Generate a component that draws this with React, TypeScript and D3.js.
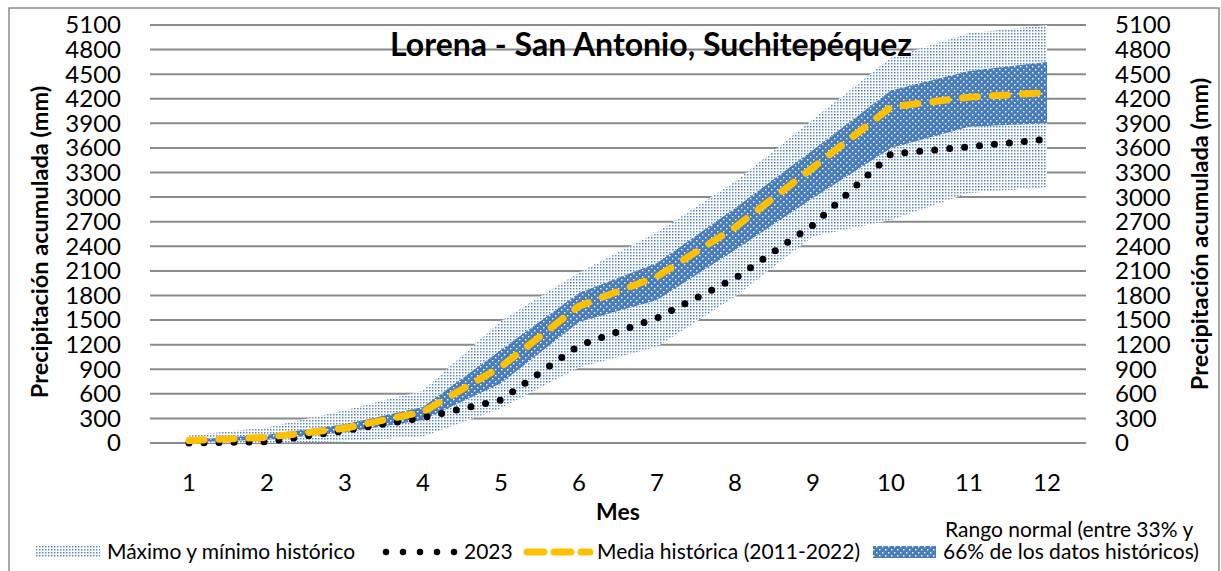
import React from "react";
import * as d3 from "d3";

const months = [1, 2, 3, 4, 5, 6, 7, 8, 9, 10, 11, 12];
const maxHist = [90, 190, 400, 640, 1490, 2080, 2570, 3190, 3950, 4700, 5000, 5100];
const minHist = [0, 0, 20, 80, 425, 920, 1175, 1785, 2520, 2720, 3050, 3120];
const q66 = [40, 100, 230, 440, 1135, 1830, 2195, 2865, 3575, 4300, 4540, 4650];
const q33 = [10, 40, 130, 280, 730, 1476, 1745, 2355, 2990, 3600, 3860, 3900];
const mean = [30, 70, 180, 380, 930, 1670, 2030, 2630, 3360, 4100, 4220, 4275];
const y2023 = [0, 15, 150, 310, 525, 1190, 1525, 2010, 2660, 3525, 3615, 3705];
const yTicks = d3.range(0, 5101, 300);

const title = "Lorena - San Antonio, Suchitepéquez";
const yTitle = "Precipitación acumulada (mm)";
const xTitle = "Mes";
const legendLabels = [
  "Máximo y mínimo histórico",
  "2023",
  "Media histórica (2011-2022)",
  "Rango normal (entre 33% y",
  "66% de los datos históricos)",
];

const FONT = "Lato, 'Open Sans', sans-serif";
const BLUE = "#4A7EBB";

export default function App() {
  const W = 1221, H = 571;
  const left = 150, right = 1086, top = 25, bottom = 443;
  const x = d3.scaleBand<number>().domain(months).range([left, right]);
  const cx = (m: number) => (x(m) as number) + x.bandwidth() / 2;
  const y = d3.scaleLinear().domain([0, 5100]).range([bottom, top]);

  const idx = months.map((_, i) => i);
  const bandArea = (lo: number[], hi: number[]) =>
    d3.area<number>().x((i) => cx(months[i])).y0((i) => y(lo[i])).y1((i) => y(hi[i]))(idx) || "";
  const line = (vals: number[]) =>
    d3.line<number>().x((i) => cx(months[i])).y((i) => y(vals[i]))(idx) || "";

  const tickFs = 24;
  return (
    <svg width={W} height={H} style={{ position: "absolute", left: 0, top: 0, background: "#fff" }}>
      <defs>
        <pattern id="lightPat" patternUnits="userSpaceOnUse" width="3" height="3">
          <rect width="3" height="3" fill="#fff" />
          <rect x="0" y="0" width="1.5" height="1.5" fill="#5787C4" />
        </pattern>
        <pattern id="darkPat" patternUnits="userSpaceOnUse" width="6" height="6">
          <rect width="6" height="6" fill={BLUE} />
          <rect x="0" y="0" width="1.4" height="1.4" fill="#fff" />
          <rect x="3" y="3" width="1.4" height="1.4" fill="#fff" />
        </pattern>
      </defs>
      <rect x={9} y={8} width={1210} height={600} fill="#fff" stroke="#8a8a8a" strokeWidth={1.5} />

      {yTicks.map((t) => (
        <line key={"g" + t} x1={left} x2={right} y1={y(t)} y2={y(t)} stroke="#8a8a8a" strokeWidth={2} />
      ))}

      <path d={bandArea(minHist, maxHist)} fill="url(#lightPat)" />
      <path d={bandArea(q33, q66)} fill="url(#darkPat)" />
      <path d={line(y2023)} fill="none" stroke="#000" strokeWidth={7} strokeLinecap="round" strokeDasharray="0 15" />
      <path d={line(mean)} fill="none" stroke="#FFC000" strokeWidth={7} strokeLinecap="round" strokeDasharray="15 15" />

      <g fontFamily={FONT} fontSize={tickFs} fill="#000">
        {yTicks.map((t) => (
          <text key={"l" + t} x={121} y={y(t)} dy="0.35em" textAnchor="end">{t}</text>
        ))}
        {yTicks.map((t) => (
          <text key={"r" + t} x={1115} y={y(t)} dy="0.35em" textAnchor="start">{t}</text>
        ))}
        {months.map((m) => (
          <text key={"x" + m} x={cx(m)} y={483} dy="0.35em" textAnchor="middle">{m}</text>
        ))}
      </g>

      <text x={651} y={45} dy="0.35em" textAnchor="middle" fontFamily={FONT} fontWeight="bold" fontSize={32}>{title}</text>
      <text x={618} y={512} dy="0.35em" textAnchor="middle" fontFamily={FONT} fontWeight="bold" fontSize={23}>{xTitle}</text>
      <text transform={`translate(40,${(top + bottom) / 2 + 8}) rotate(-90)`} dy="0.35em" textAnchor="middle" fontFamily={FONT} fontWeight="bold" fontSize={23.5}>{yTitle}</text>
      <text transform={`translate(1200,${(top + bottom) / 2}) rotate(-90)`} dy="0.35em" textAnchor="middle" fontFamily={FONT} fontWeight="bold" fontSize={23.5}>{yTitle}</text>

      <g fontFamily={FONT} fontSize={21} fill="#000">
        <rect x={36} y={546} width={64} height={12} fill="url(#lightPat)" />
        <text x={107} y={552} dy="0.35em">{legendLabels[0]}</text>
        <line x1={386} x2={456} y1={552} y2={552} stroke="#000" strokeWidth={6.5} strokeLinecap="round" strokeDasharray="0 17" />
        <text x={464} y={552} dy="0.35em">{legendLabels[1]}</text>
        <line x1={527} x2={590} y1={552} y2={552} stroke="#FFC000" strokeWidth={7} strokeLinecap="round" strokeDasharray="17 10" />
        <text x={597} y={552} dy="0.35em">{legendLabels[2]}</text>
        <rect x={873} y={546} width={63} height={12} fill="url(#darkPat)" />
        <text x={945} y={530} dy="0.35em">{legendLabels[3]}</text>
        <text x={943} y={552} dy="0.35em">{legendLabels[4]}</text>
      </g>
    </svg>
  );
}
